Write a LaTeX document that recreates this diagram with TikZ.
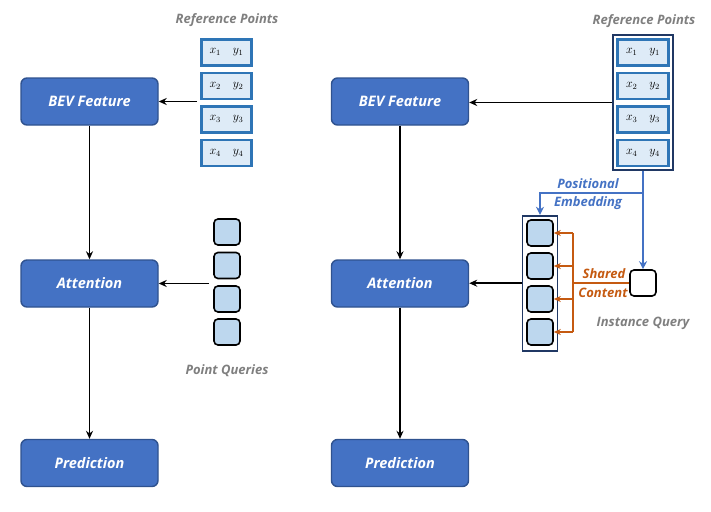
\documentclass[tikz,border=0pt]{standalone}
\usepackage{amsmath}
\usepackage{fontspec}
\setmainfont{Open Sans}
\usetikzlibrary{arrows.meta, positioning}
\definecolor{boxblue}{RGB}{68,114,196}
\definecolor{boxedge}{RGB}{47,82,143}
\definecolor{refblue}{RGB}{46,117,182}
\definecolor{reffill}{RGB}{222,235,247}
\definecolor{qfill}{RGB}{189,215,238}
\definecolor{framenavy}{RGB}{32,56,100}
\definecolor{labelgray}{RGB}{127,127,127}
\definecolor{peblue}{RGB}{68,114,196}
\definecolor{shareorange}{RGB}{197,90,17}

\tikzset{
    stage/.style={rectangle, rounded corners=6pt, draw=boxedge, line width=1.4pt, fill=boxblue,
        minimum width=137pt, minimum height=47pt, text=white, font=\bfseries\itshape\fontsize{14.5}{17}\selectfont},
    refpt/.style={rectangle, draw=refblue, line width=2.2pt, fill=reffill,
        minimum width=50pt, minimum height=26pt, inner sep=0pt, font=\fontsize{12}{14}\selectfont},
    query/.style={rectangle, rounded corners=4pt, draw=black, line width=1.6pt, fill=qfill,
        minimum size=26pt, inner sep=0pt},
    holder/.style={rectangle, draw=framenavy, line width=1.8pt, inner sep=0pt},
    caption/.style={text=labelgray, font=\bfseries\itshape\fontsize{13}{15}\selectfont},
    flow/.style={-{Stealth[length=8pt,width=7pt]}, line width=1.5pt},
    peflow/.style={peblue, line width=2pt},
    scflow/.style={shareorange, line width=1.4pt},
}

\begin{document}
\begin{tikzpicture}[x=1pt, y=-1pt]
    \useasboundingbox (0,0) rectangle (711,511);

    % Left: point queries
    \node[stage] (bevL) at (89.5,101.5) {BEV Feature};
    \node[stage] (attL) at (89.5,283.5) {Attention};
    \node[stage] (predL) at (89.5,463) {Prediction};
    \draw[flow] (bevL) -- (attL);
    \draw[flow] (attL) -- (predL);

    \node[caption] (refcapL) at (227,20) {Reference Points};
    \foreach \i/\y in {1/52.5,2/86,3/119.5,4/153} {
        \node[refpt] (rL\i) at (226.5,\y) {$x_{\i}\quad y_{\i}$};
    }
    \coordinate (rLin) at (197,101.5);
    \draw[flow] (rLin) -- (rLin -| bevL.east);

    \foreach \i/\y in {1/232,2/265.5,3/299,4/332} {
        \node[query] (qL\i) at (227,\y) {};
    }
    \coordinate (qLin) at (209,283.5);
    \draw[flow] (qLin) -- (qLin -| attL.east);
    \node[caption] (qcapL) at (227,371) {Point Queries};

    % Right: instance query + positional embedding
    \node[stage] (bevR) at (400,101.5) {BEV Feature};
    \node[stage] (attR) at (400,283.5) {Attention};
    \node[stage] (predR) at (400,463) {Prediction};
    \draw[flow] (bevR) -- (attR);
    \draw[flow] (attR) -- (predR);

    \node[caption] (refcapR) at (644,21) {Reference Points};
    \node[holder, minimum width=60pt, minimum height=135pt] (rFrame) at (643,102.5) {};
    \foreach \i/\y in {1/52.5,2/86,3/119.5,4/153} {
        \node[refpt, minimum width=51pt] (rR\i) at (643,\y) {$x_{\i}\quad y_{\i}$};
    }
    \draw[flow] (rFrame.west) -- (rFrame.west -| bevR.east);

    \node[holder, minimum width=35pt, minimum height=135pt] (qFrame) at (540,283.2) {};
    \foreach \i/\y in {1/233,2/266,3/299,4/332} {
        \node[query] (qR\i) at (540,\y) {};
    }
    \draw[flow] (qFrame.west) -- (qFrame.west -| attR.east);

    \node[query, fill=white] (iq) at (643,283) {};
    \node[caption] (iqcap) at (643,323) {Instance Query};

    % positional embedding
    \coordinate (pe) at (643,193);
    \draw[peflow, -{Stealth[length=8pt,width=8pt]}] (rFrame.south) -- (iq.north);
    \draw[peflow, -{Stealth[length=8pt,width=8pt]}] (pe) -| (qFrame.north);
    \node[caption, text=peblue] (pe1) at (588,184) {Positional};
    \node[caption, text=peblue] (pe2) at (588,203) {Embedding};

    % shared content
    \coordinate (sc) at (573,283);
    \draw[scflow, line width=2.6pt] (iq.west) -- (sc);
    \draw[scflow] (sc |- qR1.east) -- (sc |- qR4.east);
    \foreach \i in {1,...,4} {
        \draw[scflow, -{Stealth[length=7pt,width=6pt]}] (sc |- qR\i.east) -- (qR\i.east);
    }
    \node[caption, text=shareorange] (sc1) at (604,274) {Shared};
    \node[caption, text=shareorange] (sc2) at (603,293) {Content};
\end{tikzpicture}
\end{document}
